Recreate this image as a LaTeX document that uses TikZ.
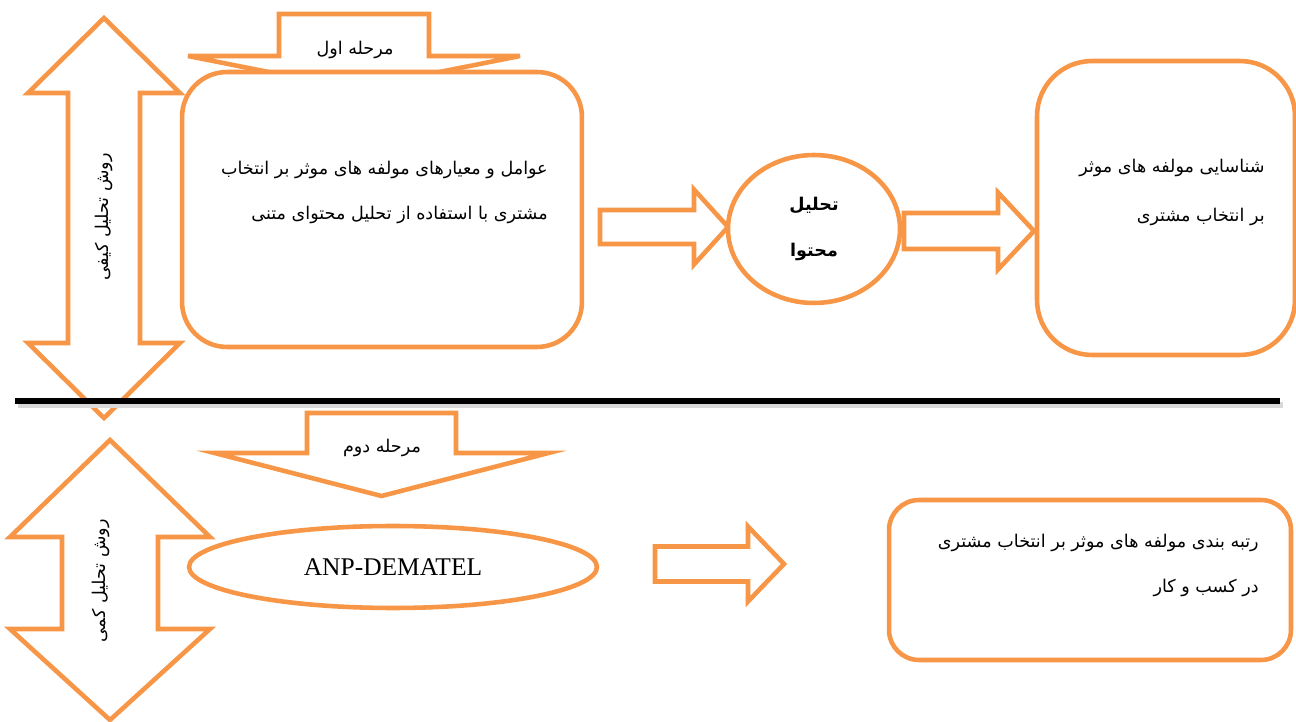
\documentclass[tikz,border=0pt]{standalone}
\usepackage{fontspec}
\setmainfont{Liberation Serif}
\newfontfamily\farsi[Script=Arabic]{DejaVu Sans}
\TeXXeTstate=1
\usetikzlibrary{shapes.geometric}
\definecolor{accentorange}{HTML}{F79646}
\newcommand{\fa}[1]{{\farsi\beginR #1\endR}}

\begin{document}
\begin{tikzpicture}[x=0.02cm,y=-0.02cm,
  blockarrow/.style={draw=accentorange,line width=2.6pt,fill=white,line join=miter},
  roundbox/.style={draw=accentorange,line width=2.6pt,fill=white,rectangle},
  oval/.style={draw=accentorange,line width=2.6pt,fill=white,ellipse,inner sep=0pt},
  fatext/.style={font=\fontsize{10}{25.5}\selectfont,inner sep=0pt,align=right}]
  \useasboundingbox (0,0) rectangle (1296,722);
   \newcommand{\orangeRight}[6]{% start x, mid y, shaft half, head x, head half, tip x
        \draw[blockarrow] (#1,#2-#3) -- (#4,#2-#3) -- (#4,#2-#5) -- (#6,#2)
          -- (#4,#2+#5) -- (#4,#2+#3) -- (#1,#2+#3) -- cycle;
    }
    \newcommand{\orangeDown}[6]{% mid x, top y, shaft half, head y, head half, tip y
        \draw[blockarrow] (#1-#3,#2) -- (#1+#3,#2) -- (#1+#3,#4) -- (#1+#5,#4)
          -- (#1,#6) -- (#1-#5,#4) -- (#1-#3,#4) -- cycle;
    }
    \newcommand{\orangeUpDown}[7]{% mid x, top tip, head y, shaft half, head half, lower head y, bottom tip
        \draw[blockarrow] (#1,#2) -- (#1+#5,#3) -- (#1+#4,#3) -- (#1+#4,#6) -- (#1+#5,#6)
          -- (#1,#7) -- (#1-#5,#6) -- (#1-#4,#6) -- (#1-#4,#3) -- (#1-#5,#3) -- cycle;
    }

  % first stage
  \orangeUpDown{104}{18}{93}{36}{76}{343}{418}
  \node[fatext,rotate=90] (qual) at (104,217) {\fa{روش تحلیل کیفی}};
  \orangeDown{354}{14}{75}{56}{166}{89}
  \node[fatext] (stage1) at (355,50) {\fa{مرحله اول}};

  \node[roundbox,rounded corners=0.9cm,minimum width=8cm,minimum height=5.5cm] (factors) at (382,209.5) {};
  \node[fatext,anchor=east] (factorstxt) at (548,192.5)
    {\fa{عوامل و معیارهای مولفه های موثر بر انتخاب}\\\fa{مشتری با استفاده از تحلیل محتوای متنی}};

  \orangeRight{600}{227}{17}{694}{37.5}{728}
  \node[oval,minimum width=3.44cm,minimum height=2.96cm,
    font=\bfseries\fontsize{10}{26}\selectfont,align=center] (content) at (814,229)
    {\fa{تحلیل}\\\fa{محتوا}};
  \orangeRight{904}{231}{18}{998}{38.5}{1034}

  \node[roundbox,rounded corners=1.1cm,minimum width=5.16cm,minimum height=5.88cm] (identify) at (1166,208) {};
  \node[fatext,anchor=east,font=\fontsize{10}{27.8}\selectfont] (identifytxt) at (1265,192.5)
    {\fa{شناسایی مولفه های موثر}\\\fa{بر انتخاب مشتری}};

  % divider
  \draw[line width=3.8pt,black!15] (18,405) -- (1283,405);
  \draw[line width=3.8pt] (15,401) -- (1280,401);

  % second stage
  \orangeUpDown{110}{440}{537}{48}{100}{629}{720}
  \node[fatext,rotate=90] (quant) at (101,581) {\fa{روش تحلیل کمی}};
  \orangeDown{381.5}{413}{74.5}{453}{167}{496}
  \node[fatext] (stage2) at (382,448) {\fa{مرحله دوم}};

  \node[oval,minimum width=8.16cm,minimum height=1.64cm,font=\fontsize{14.5}{16}\selectfont] (anp) at (393,567) {ANP-DEMATEL};
  \orangeRight{655}{564}{17.5}{748}{37.5}{784}

  \node[roundbox,rounded corners=0.6cm,minimum width=8.04cm,minimum height=3.2cm] (ranking) at (1090,580) {};
  \node[fatext,anchor=east] (rankingtxt) at (1259,565.5)
    {\fa{رتبه بندی مولفه های موثر بر انتخاب مشتری}\\\fa{در کسب و کار}};

\end{tikzpicture}
\end{document}
